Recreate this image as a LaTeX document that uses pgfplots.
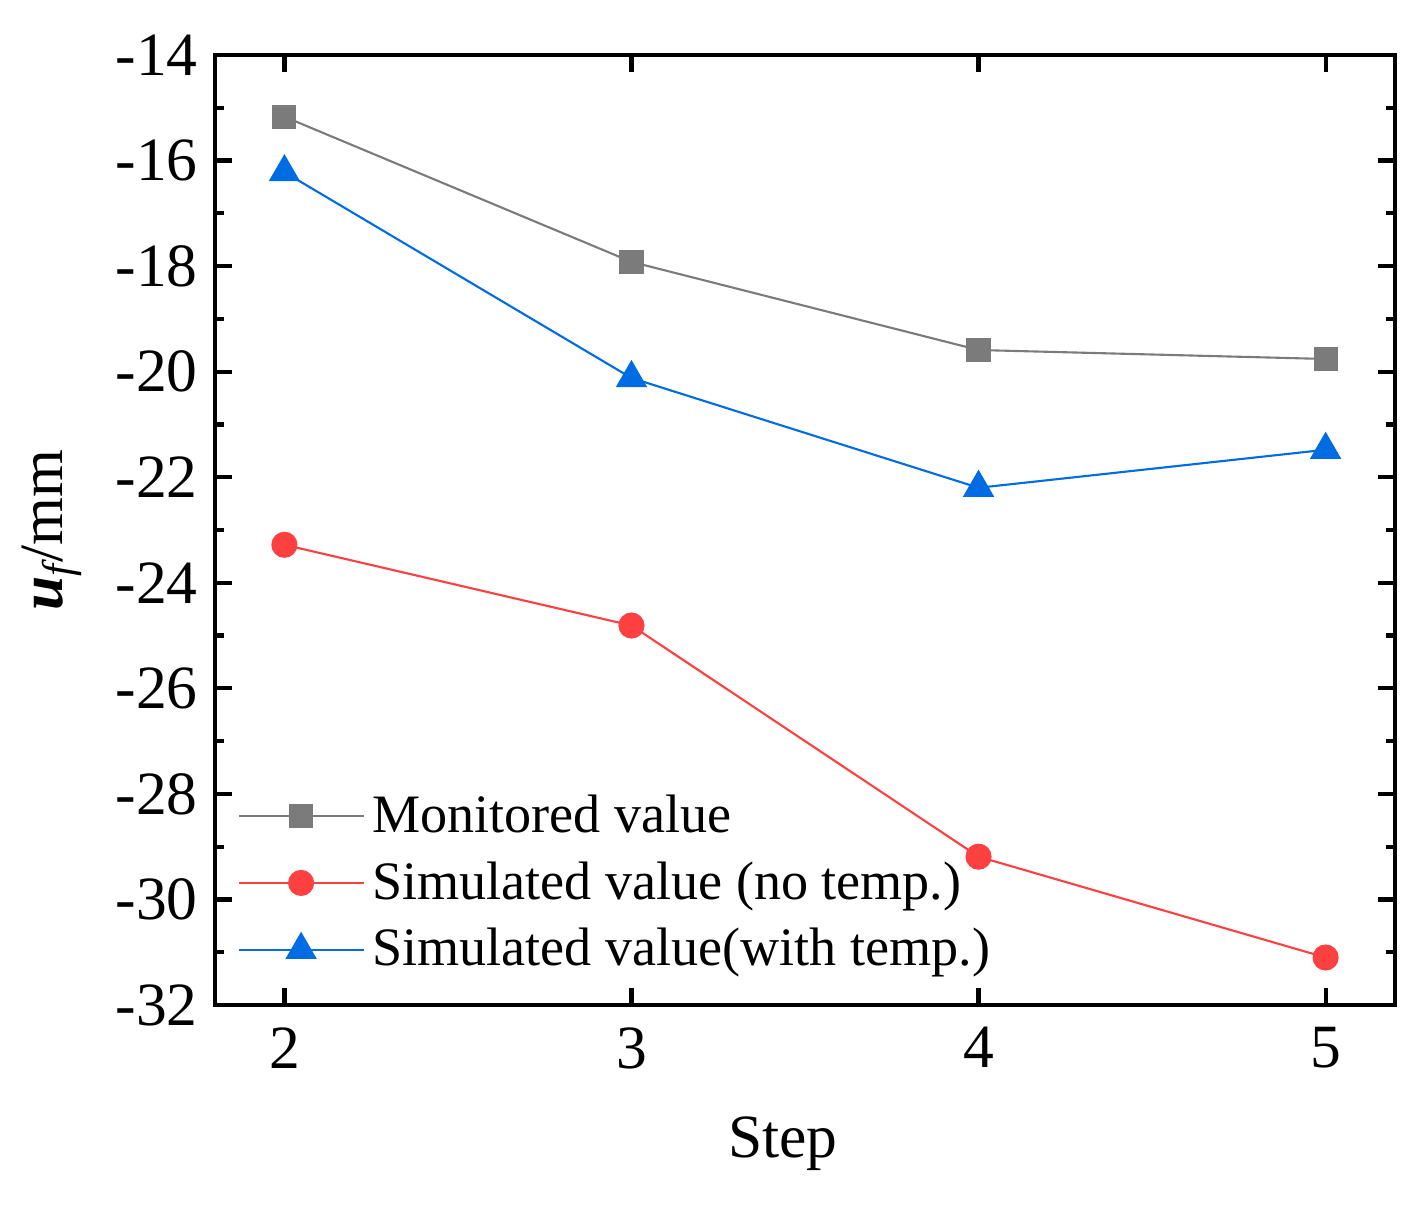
\documentclass[border=0pt]{standalone}
\usepackage{pgfplots}
\pgfplotsset{compat=1.18}
\usepackage{fontspec}
\setmainfont{Liberation Serif}
\definecolor{mongray}{RGB}{123,123,123}
\definecolor{simred}{RGB}{255,64,64}
\definecolor{simblue}{RGB}{0,108,228}
\begin{document}
\begin{tikzpicture}
\begin{axis}[
scale only axis,
width=118mm,
height=95mm,
xmin=1.8, xmax=5.2,
ymin=-32, ymax=-14,
xtick={2,3,4,5},
ytick={-32,-30,...,-14},
minor y tick num=1,
tick align=inside,
major tick length=1.7mm,
minor tick length=0.9mm,
every tick/.style={black, line width=1.2pt},
axis line style={line width=1.4pt},
/pgf/number format/assume math mode=true,
xticklabel={\pgfmathprintnumber{\tick}},
yticklabel={\pgfmathprintnumber{\tick}},
tick label style={font=\fontsize{17.5}{20}\selectfont},
label style={font=\fontsize{17.5}{20}\selectfont},
yticklabel style={xshift=-0.5mm},
xticklabel style={yshift=-1mm},
xlabel={Step},
ylabel={{\bfseries\itshape u}\textsubscript{\itshape f}/mm},
xlabel style={yshift=-2.4mm, xshift=-2.2mm},
ylabel style={yshift=1mm},
legend style={at={(0.01,0.02)}, anchor=south west, draw=none, fill=none,
  font=\fontsize{15.4}{17}\selectfont, row sep=1mm},
legend cell align=left,
legend image code/.code={\draw[mark repeat=2,mark phase=2] plot coordinates {(-0.05cm,0cm) (0.57cm,0cm) (1.2cm,0cm)};},
]
\addplot[mongray, line width=0.6pt, mark=square*, mark size=1.1mm, mark options={solid}]
coordinates {(2,-15.17) (3,-17.92) (4,-19.59) (5,-19.76)};
\addlegendentry{Monitored value}
\addplot[simred, line width=0.6pt, mark=*, mark size=1.2mm]
coordinates {(2,-23.28) (3,-24.81) (4,-29.19) (5,-31.10)};
\addlegendentry{Simulated value (no temp.)}
\addplot[simblue, line width=0.6pt, mark=triangle*, mark size=1.6mm]
coordinates {(2,-16.22) (3,-20.12) (4,-22.20) (5,-21.48)};
\addlegendentry{Simulated value(with temp.)}
\end{axis}
\path (current axis.south west) ++(-21.5mm,-20mm) coordinate (bbsw);
\path (current axis.north east) ++(2.7mm,5.5mm) coordinate (bbne);
\useasboundingbox (bbsw) rectangle (bbne);
\end{tikzpicture}
\end{document}
